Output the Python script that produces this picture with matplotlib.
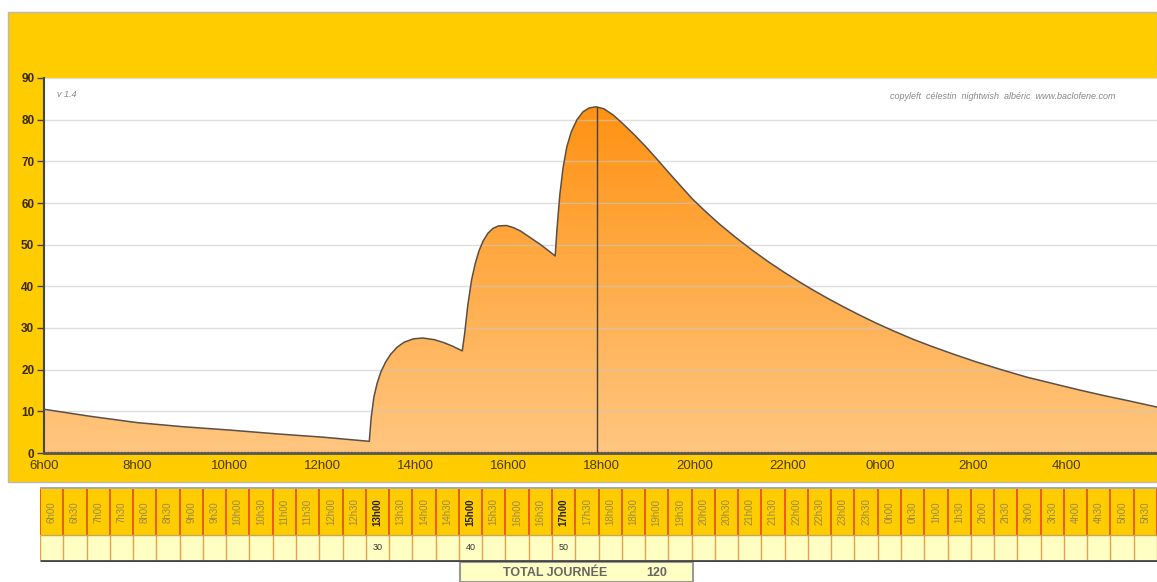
import matplotlib.pyplot as plt
import numpy as np
from matplotlib.patches import Polygon, Rectangle

plt.rcParams["font.family"] = ["Liberation Sans", "DejaVu Sans"]

# concentration curve (hour of day, value); hours > 24 are next morning
hours = [6, 7, 8, 9, 10, 11, 12, 13,
         13.04, 13.1, 13.17, 13.25, 13.35, 13.46, 13.6, 13.75, 13.95, 14.15, 14.4, 14.6,
         14.8, 15.0,
         15.05, 15.12, 15.2, 15.28, 15.36, 15.45, 15.55, 15.66, 15.78, 15.95, 16.1, 16.25,
         16.45, 16.7, 17.0,
         17.04, 17.1, 17.17, 17.25, 17.35, 17.47, 17.6, 17.73, 17.88, 18.05, 18.25, 18.45,
         18.7, 18.96, 19.2, 19.45, 19.7, 19.95, 20.25, 20.55, 20.9, 21.25, 21.6, 21.95,
         22.25, 22.55, 22.85, 23.2, 23.55, 23.9, 24.3, 24.7, 25.1, 25.55, 26.05, 26.6,
         27.15, 27.7, 28.25, 28.8, 29.35, 30.0]
values = [10.5, 8.8, 7.3, 6.3, 5.5, 4.6, 3.8, 2.8,
          8.5, 13.5, 16.8, 19.5, 21.8, 23.7, 25.4, 26.6, 27.4, 27.6, 27.2, 26.5,
          25.6, 24.5,
          28.5, 35.5, 41.5, 45.5, 48.5, 50.9, 52.7, 53.9, 54.5, 54.6, 54.1, 53.3,
          51.8, 49.9, 47.3,
          54, 62, 68.5, 73.5, 77.2, 80, 81.9, 82.8, 83.1, 82.6, 81.1, 79.1,
          76.4, 73.4, 70.4, 67.2, 64.1, 61.0, 57.8, 54.8, 51.6, 48.6, 45.8, 43.2,
          41.1, 39.1, 37.2, 35.1, 33.1, 31.2, 29.2, 27.3, 25.6, 23.8, 21.9, 20.0,
          18.2, 16.7, 15.2, 13.8, 12.5, 10.9]
marker_hour = 17.9

tick_hours = [6, 8, 10, 12, 14, 16, 18, 20, 22, 24, 26, 28]
tick_labels = ["6h00", "8h00", "10h00", "12h00", "14h00", "16h00", "18h00",
               "20h00", "22h00", "0h00", "2h00", "4h00"]

slot_labels = [f"{(6 + i // 2) % 24}h{'30' if i % 2 else '00'}" for i in range(48)]
dose_slots = ["13h00", "15h00", "17h00"]
dose_values = [30, 40, 50]
total_label = "TOTAL JOURNÉE"

W, H = 1157, 582
YELLOW = "#FFCC00"
PALE = "#FFFFC4"


def fx(px):
    return px / W


def fy(py):
    return 1 - py / H


fig = plt.figure(figsize=(W / 100, H / 100), dpi=100)
fig.patch.set_facecolor("white")

# yellow panel behind the chart
fig.patches.append(Rectangle((fx(8), fy(482)), fx(1149), 470 / H, transform=fig.transFigure,
                             facecolor=YELLOW, edgecolor="#b8b8b8", lw=1, zorder=-5))

ax = fig.add_axes([fx(44), fy(453), fx(1157 - 44), (453 - 78) / H])
ax.set_facecolor("white")
ax.set_xlim(6, 29.95)
ax.set_ylim(0, 90)

# gradient area
verts = list(zip(hours, values)) + [(hours[-1], 0), (hours[0], 0)]
poly = Polygon(verts, closed=True, facecolor="none", edgecolor="none")
ax.add_patch(poly)
top = np.array([255, 146, 18]) / 255
bottom = np.array([255, 198, 128]) / 255
t = np.linspace(0, 1, 256)[:, None]
grad = (bottom * (1 - t) + top * t)[:, None, :]
im = ax.imshow(grad, extent=[6, 30, 0, max(values)], origin="lower", aspect="auto", zorder=1)
im.set_clip_path(poly)
ax.plot(hours, values, color="#5a5048", lw=1.1, zorder=3, solid_joinstyle="round")
ax.vlines(marker_hour, 0, max(values), color="#4a4038", lw=1, zorder=3)

for yv in range(10, 91, 10):
    ax.axhline(yv, color="#c8c8c8", lw=1, alpha=0.6, zorder=2)
ax.axhline(0.6, color="#e0a050", lw=0.8, ls=(0, (1, 2)), zorder=2)

ax.set_xticks(tick_hours)
ax.set_xticklabels(tick_labels, fontsize=9.5, color="#4a3a10")
ax.set_yticks(range(0, 91, 10))
ax.set_yticklabels([str(v) for v in range(0, 91, 10)], fontsize=8.5,
                   fontweight="bold", color="#3a2a10")
ax.tick_params(axis="x", length=0, pad=5)
ax.tick_params(axis="y", length=5, width=1, color="#444444", pad=2)
for s in ["top", "right"]:
    ax.spines[s].set_visible(False)
ax.spines["left"].set_color("#444444")
ax.spines["left"].set_linewidth(1.5)
ax.spines["bottom"].set_color("#555555")
ax.spines["bottom"].set_linewidth(2)

ax.text(0.012, 0.955, "v 1.4", transform=ax.transAxes, fontsize=6.5, style="italic",
        color="#888888", va="center")
ax.text(0.963, 0.95, "copyleft  célestin  nightwish  albéric  www.baclofene.com",
        transform=ax.transAxes, fontsize=6.5, style="italic", color="#888888",
        ha="right", va="center")

# half-hour table under the chart
tab = fig.add_axes([fx(40), fy(562), fx(1157 - 40), (562 - 487) / H])
tab.set_xlim(0, len(slot_labels))
tab.set_ylim(562, 487)
tab.axis("off")
for i, lab in enumerate(slot_labels):
    tab.add_patch(Rectangle((i, 489), 1, 46, facecolor=YELLOW, edgecolor="none"))
    tab.add_patch(Rectangle((i, 535), 1, 25, facecolor=PALE, edgecolor="none"))
    is_dose = lab in dose_slots
    tab.text(i + 0.5, 512, lab, rotation=90, ha="center", va="center", fontsize=7,
             color="#222222" if is_dose else "#9a8a48",
             fontweight="bold" if is_dose else "normal")
    if is_dose:
        tab.text(i + 0.5, 548, str(dose_values[dose_slots.index(lab)]), ha="center",
                 va="center", fontsize=6.5, color="#333333")
for i in range(len(slot_labels) + 1):
    tab.vlines(i, 489, 535, color="#e84a1a", lw=1.2)
    tab.vlines(i, 535, 560, color="#e8a050", lw=1)
tab.hlines(488, 0, len(slot_labels), color="#9a9a9a", lw=1.2)
tab.hlines(535, 0, len(slot_labels), color="#c8a850", lw=1)
tab.hlines(561, 0, len(slot_labels), color="#444444", lw=2)

# daily total box
fig.patches.append(Rectangle((fx(460), fy(582)), fx(233), 20 / H, transform=fig.transFigure,
                             facecolor=PALE, edgecolor="#999999", lw=1.5, zorder=-5))
fig.text(fx(555), fy(573), total_label, ha="center", va="center", fontsize=9,
         fontweight="bold", color="#666666")
fig.text(fx(657), fy(573), str(sum(dose_values)), ha="center", va="center", fontsize=9,
         fontweight="bold", color="#666666")

fig.savefig("out.png", dpi=100)
